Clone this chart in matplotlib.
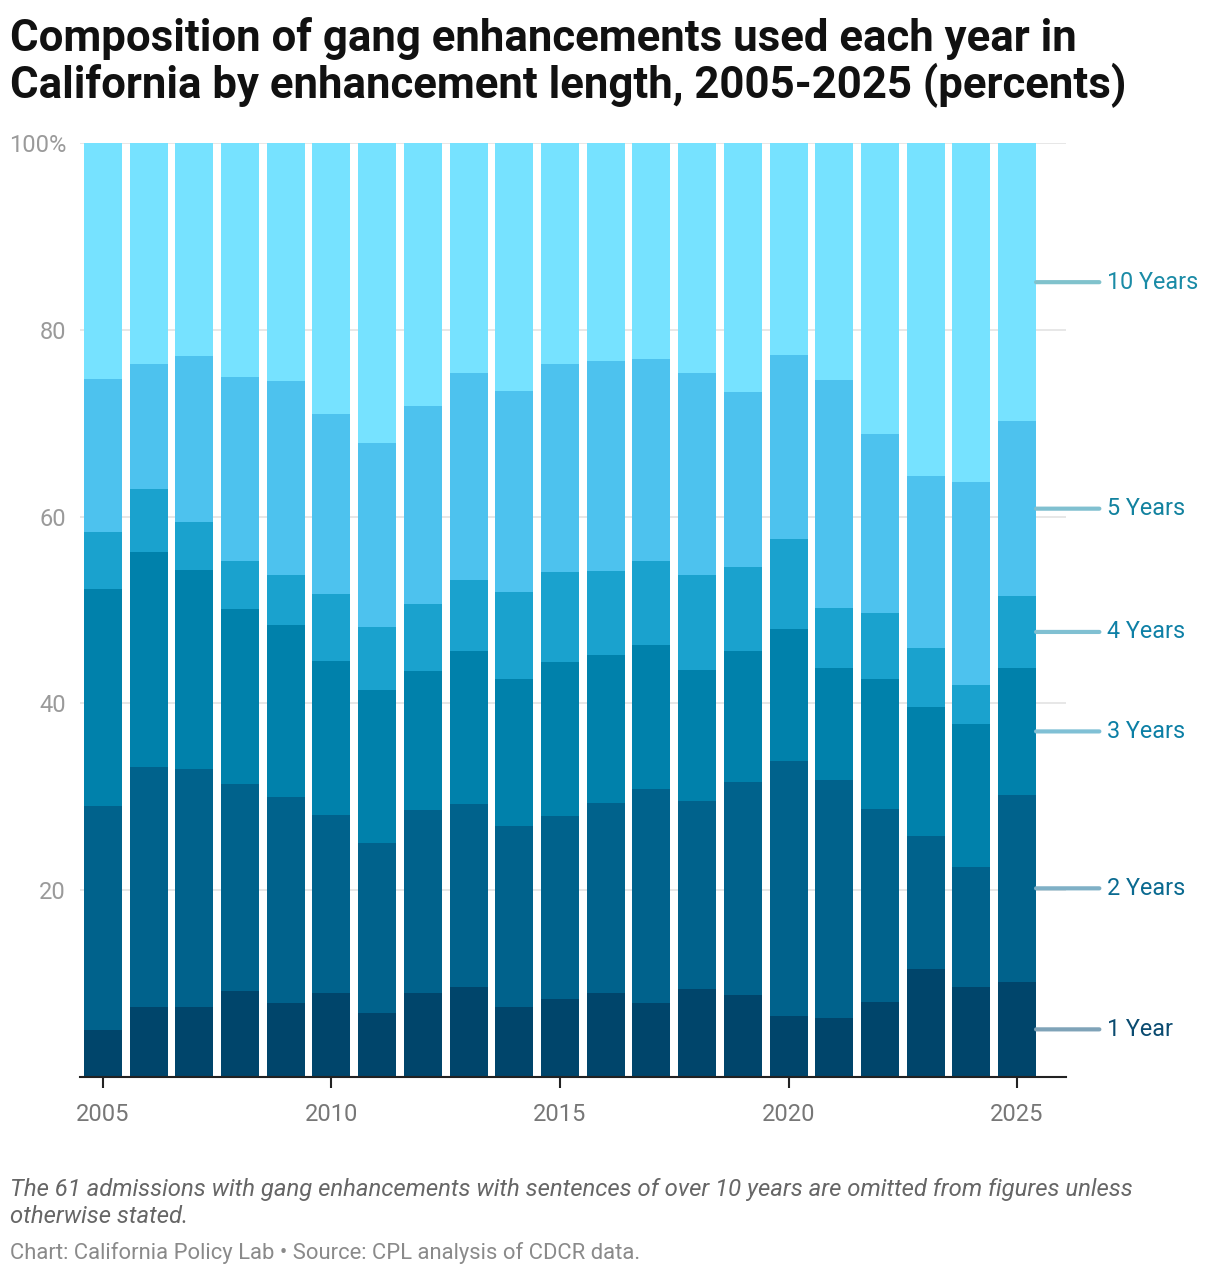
import numpy as np
import matplotlib.pyplot as plt

plt.rcParams['font.family'] = ['Roboto', 'DejaVu Sans']

years = np.arange(2005, 2026)
labels = ['1 Year', '2 Years', '3 Years', '4 Years', '5 Years', '10 Years']

# cumulative tops (percent), per year
top_1yr = [5.0, 7.5, 7.5, 9.2, 7.9, 9.0, 6.9, 9.0, 9.6, 7.5, 8.4,
           9.0, 7.9, 9.4, 8.8, 6.5, 6.3, 8.0, 11.6, 9.6, 10.2]
top_2yr = [29.0, 33.2, 33.0, 31.4, 30.0, 28.1, 25.1, 28.6, 29.2, 26.9, 27.9,
           29.3, 30.8, 29.6, 31.6, 33.8, 31.8, 28.7, 25.8, 22.5, 30.2]
top_3yr = [52.2, 56.2, 54.3, 50.1, 48.4, 44.5, 41.4, 43.5, 45.6, 42.6, 44.4,
           45.2, 46.3, 43.6, 45.6, 48.0, 43.8, 42.6, 39.6, 37.8, 43.8]
top_4yr = [58.4, 63.0, 59.4, 55.2, 53.7, 51.7, 48.2, 50.6, 53.2, 51.9, 54.1,
           54.2, 55.2, 53.7, 54.6, 57.6, 50.2, 49.7, 45.9, 42.0, 51.5]
top_5yr = [74.7, 76.3, 77.2, 74.9, 74.5, 71.0, 67.9, 71.8, 75.4, 73.4, 76.3,
           76.7, 76.9, 75.4, 73.3, 77.3, 74.6, 68.8, 64.3, 63.7, 70.2]
top_10yr = [100.0] * len(years)

bar_colors = ['#00456b', '#00628c', '#0081ab', '#1aa2ce', '#4dc2ee', '#76e2ff']
text_colors = ['#0a4b70', '#0a6a90', '#0b7fa5', '#0e80a6', '#12829f', '#1a8ba6']
line_colors = ['#7fa3b8', '#7fb0c6', '#80c0d5', '#80c0d2', '#80c0d0', '#80c2cc']

tops = np.array([top_1yr, top_2yr, top_3yr, top_4yr, top_5yr, top_10yr])
bottoms = np.vstack([np.zeros(len(years)), tops[:-1]])

fig = plt.figure(figsize=(12.2, 12.76), dpi=100)
ax = fig.add_axes([80 / 1220, 199 / 1276, 986 / 1220, 934 / 1276])

for i in range(len(labels)):
    ax.bar(years, tops[i] - bottoms[i], bottom=bottoms[i], width=0.83,
           color=bar_colors[i], linewidth=0, zorder=2)

ax.set_xlim(2004.5, 2026.07)
ax.set_ylim(0, 100)
ax.set_yticks([20, 40, 60, 80, 100])
ax.set_yticklabels(['20', '40', '60', '80', '100%'])
ax.yaxis.grid(True, color='#e3e3e3', linewidth=1.2, zorder=0)
ax.tick_params(axis='y', length=0, pad=10, labelsize=17, labelcolor='#9a9a9a')
ax.set_xticks([2005, 2010, 2015, 2020, 2025])
ax.tick_params(axis='x', length=8, width=1.5, color='#222222', pad=11,
               labelsize=17, labelcolor='#777777')
for s in ['top', 'right', 'left']:
    ax.spines[s].set_visible(False)
ax.spines['bottom'].set_color('#222222')
ax.spines['bottom'].set_linewidth(1.5)
ax.set_axisbelow(True)

# direct labels at the middle of each segment of the last bar
last = len(years) - 1
for i, lab in enumerate(labels):
    mid = (tops[i][last] + bottoms[i][last]) / 2
    ax.annotate('', xy=(years[last] + 0.415, mid), xytext=(years[last] + 1.8, mid),
                xycoords='data', annotation_clip=False,
                arrowprops=dict(arrowstyle='-', color=line_colors[i], lw=3,
                                shrinkA=0, shrinkB=0))
    ax.text(years[last] + 1.97, mid, lab, color=text_colors[i], fontsize=16.8,
            va='center', ha='left', clip_on=False)

fig.text(10 / 1220, 1 - 17 / 1276,
         'Composition of gang enhancements used each year in\n'
         'California by enhancement length, 2005-2025 (percents)',
         fontsize=31.5, fontweight='bold', color='#111111', va='top', ha='left',
         linespacing=1.08)

fig.text(10 / 1220, 1 - 1178 / 1276,
         'The 61 admissions with gang enhancements with sentences of over 10 years are omitted from figures unless\n'
         'otherwise stated.',
         fontsize=17.2, style='italic', color='#666666', va='top', ha='left',
         linespacing=1.22)
fig.text(10 / 1220, 1 - 1242 / 1276,
         'Chart: California Policy Lab \u2022 Source: CPL analysis of CDCR data.',
         fontsize=15.8, color='#8a8a8a', va='top', ha='left')

fig.savefig('out.png', dpi=100, facecolor='white')
